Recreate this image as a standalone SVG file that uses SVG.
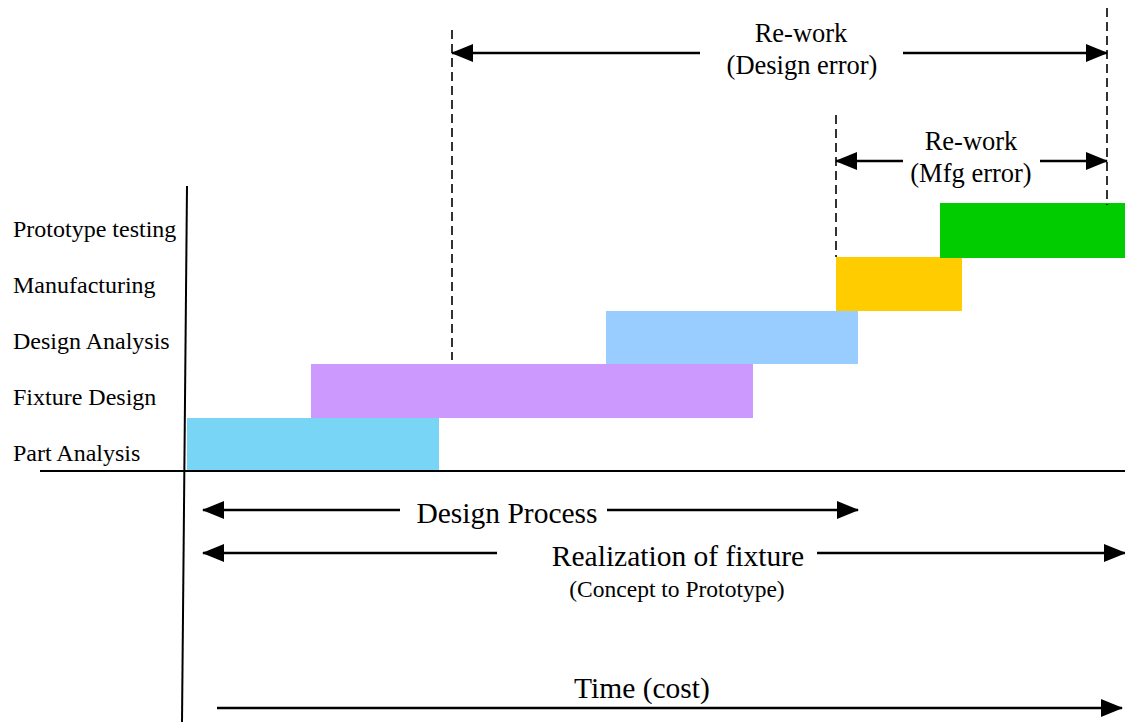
<svg xmlns="http://www.w3.org/2000/svg" width="1125" height="725" viewBox="0 0 1125 725">
<defs>
<style>
text{font-family:"Liberation Serif","Times New Roman",serif;fill:#000}
.lab{font-size:24px}
.rw{font-size:26.5px;text-anchor:middle}
.big{font-size:29.5px;text-anchor:middle}
.sm{font-size:23.5px;text-anchor:middle}
.ax{stroke:#000;stroke-width:2;fill:none}
.dash{stroke:#000;stroke-width:1.6;stroke-dasharray:9 5;fill:none}
.arr{stroke:#000;stroke-width:2.5;fill:none}
</style>
<marker id="ah" viewBox="0 0 22 18" refX="21" refY="9" markerWidth="22" markerHeight="18" markerUnits="userSpaceOnUse" orient="auto-start-reverse">
<path d="M0,0 L22,9 L0,18 Z" fill="#000"/>
</marker>
</defs>
<rect width="1125" height="725" fill="#fff"/>
<g id="axes">
<line class="ax" x1="187" y1="186" x2="182" y2="722"/>
<line class="ax" x1="40" y1="471" x2="1125" y2="471"/>
</g>
<g id="labels">
<text class="lab" x="13" y="237">Prototype testing</text>
<text class="lab" x="13" y="293">Manufacturing</text>
<text class="lab" x="13" y="349">Design Analysis</text>
<text class="lab" x="13" y="405">Fixture Design</text>
<text class="lab" x="13" y="461">Part Analysis</text>
</g>
<g id="bar-part-analysis"><rect x="187" y="418" width="252" height="52" fill="#78D5F5"/></g>
<g id="bar-fixture-design"><rect x="311" y="364" width="442" height="54" fill="#CC99FF"/></g>
<g id="bar-design-analysis"><rect x="606" y="311" width="252" height="53" fill="#99CCFF"/></g>
<g id="bar-manufacturing"><rect x="836" y="257" width="126" height="54" fill="#FFCC00"/></g>
<g id="bar-prototype-testing"><rect x="940" y="203" width="185" height="55" fill="#00CC00"/></g>
<g id="connectors">
<line class="dash" x1="452" y1="30" x2="452" y2="360"/>
<line class="dash" x1="836" y1="115" x2="836" y2="257"/>
<line class="dash" x1="1107" y1="8" x2="1107" y2="205"/>
<line class="arr" x1="700" y1="53" x2="452" y2="53" marker-end="url(#ah)"/>
<line class="arr" x1="903" y1="53" x2="1107" y2="53" marker-end="url(#ah)"/>
<line class="arr" x1="903" y1="161" x2="836" y2="161" marker-end="url(#ah)"/>
<line class="arr" x1="1040" y1="161" x2="1107" y2="161" marker-end="url(#ah)"/>
<line class="arr" x1="400" y1="510" x2="203" y2="510" marker-end="url(#ah)"/>
<line class="arr" x1="607" y1="510" x2="858" y2="510" marker-end="url(#ah)"/>
<line class="arr" x1="497" y1="553" x2="203" y2="553" marker-end="url(#ah)"/>
<line class="arr" x1="817" y1="553" x2="1125" y2="553" marker-end="url(#ah)"/>
<line class="arr" x1="217" y1="708" x2="1122" y2="708" marker-end="url(#ah)"/>
</g>
<g id="annotations">
<text class="rw" x="801" y="42">Re-work</text>
<text class="rw" x="802" y="74">(Design error)</text>
<text class="rw" x="971" y="150">Re-work</text>
<text class="rw" x="971" y="182">(Mfg error)</text>
<text class="big" x="507" y="523">Design Process</text>
<text class="big" x="678" y="566">Realization of fixture</text>
<text class="sm" x="677" y="597">(Concept to Prototype)</text>
<text class="big" x="642" y="698">Time (cost)</text>
</g>
</svg>
